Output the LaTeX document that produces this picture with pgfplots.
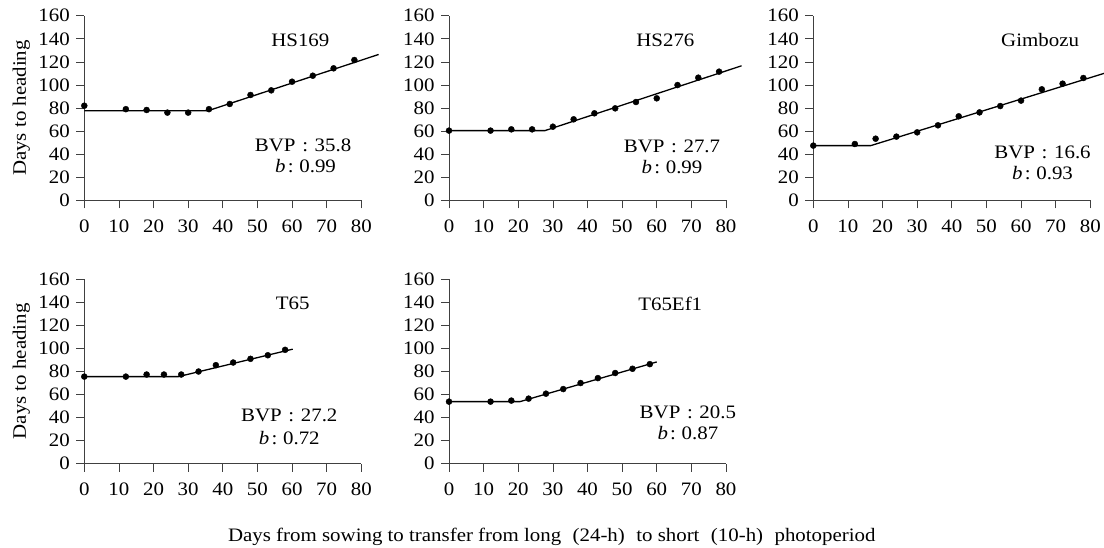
\documentclass[border=0pt]{standalone}
\usepackage{pgfplots}
\pgfplotsset{compat=1.18}
\usepackage{fontspec}
\setmainfont{Liberation Serif}[FakeStretch=1.1]
\begin{document}
\fontsize{19}{22}\selectfont
\begin{tikzpicture}
\useasboundingbox (0pt,0pt) rectangle (1104pt,-547pt);
\pgfplotsset{
  panel/.style={
    at={#1}, anchor=south west,
    scale only axis, width=277pt, height=184.6pt,
    xmin=0, xmax=80, ymin=0, ymax=160,
    axis x line=bottom, axis y line=left,
    axis line style={-, line width=0.7pt, black!75},
    xtick={0,10,...,80}, ytick={0,20,...,160},
    tick align=outside, major tick length=8pt,
    tick style={line width=0.7pt, black!75},
    clip=false,
    /pgf/number format/assume math mode=true,
    ticklabel style={font=\fontsize{19}{22}\selectfont},
    xticklabel style={yshift=-5pt},
  },
  pts/.style={only marks, mark=*, mark size=3pt, black},
  fitl/.style={no marks, line width=1.3pt, black},
}
% HS169
\begin{axis}[panel={(84.3pt,-200.3pt)}]
\addplot[pts] coordinates {(0,82) (12,79) (18,78.3) (24,76) (30,76) (36,79) (42,83.5) (48,91.3) (54,95.3) (60,102.8) (66,108) (72,114.4) (78,121.6)};
\addplot[fitl] coordinates {(0,77.7) (35.8,77.7) (85,126.4)};
\node[rotate=90] at (axis description cs:-0.227,0.5) {Days to heading};
\node at (axis cs:62.4,139) {HS169};
\node at (axis cs:63.2,47.3) {BVP\hspace{0.35em}:\hspace{0.35em}35.8};
\node at (axis cs:63.9,30) {\textit{b}\hspace{0.12em}:\hspace{0.3em}0.99};
\end{axis}
% HS276
\begin{axis}[panel={(449pt,-200.3pt)}]
\addplot[pts] coordinates {(0,60.4) (12,60.4) (18,61.5) (24,61.5) (30,63.8) (36,70.2) (42,75.4) (48,79.7) (54,85.2) (60,88.4) (66,99.9) (72,106.3) (78,111.5)};
\addplot[fitl] coordinates {(0,60.4) (27.7,60.4) (84.5,116.6)};
\node at (axis cs:62.5,139) {HS276};
\node at (axis cs:64.4,46.5) {BVP\hspace{0.35em}:\hspace{0.35em}27.7};
\node at (axis cs:64.4,29) {\textit{b}\hspace{0.12em}:\hspace{0.3em}0.99};
\end{axis}
% Gimbozu
\begin{axis}[panel={(813.3pt,-200.3pt)}]
\addplot[pts] coordinates {(0,47.4) (12,48.8) (18,53.4) (24,55.2) (30,58.9) (36,65) (42,72.8) (48,76.2) (54,81.7) (60,86.4) (66,96.2) (72,101.1) (78,106)};
\addplot[fitl] coordinates {(0,47.4) (16.6,47.4) (84.6,110.6)};
\node at (axis cs:65.5,139) {Gimbozu};
\node at (axis cs:66.2,41.3) {BVP\hspace{0.35em}:\hspace{0.35em}16.6};
\node at (axis cs:66.2,23.4) {\textit{b}\hspace{0.12em}:\hspace{0.3em}0.93};
\end{axis}
% T65
\begin{axis}[panel={(84.3pt,-463.7pt)}]
\addplot[pts] coordinates {(0,75.5) (12,75.5) (18,77.3) (23,77.3) (28,77.3) (33,79.9) (38,85.4) (43,87.7) (48,90.9) (53,94) (58,98.7)};
\addplot[fitl] coordinates {(0,75.5) (27.2,75.5) (60.2,99.3)};
\node[rotate=90] at (axis description cs:-0.227,0.5) {Days to heading};
\node at (axis cs:60.2,139) {T65};
\node at (axis cs:59.2,41.7) {BVP\hspace{0.35em}:\hspace{0.35em}27.2};
\node at (axis cs:59.2,22) {\textit{b}\hspace{0.12em}:\hspace{0.3em}0.72};
\end{axis}
% T65Ef1
\begin{axis}[panel={(449pt,-463.7pt)}]
\addplot[pts] coordinates {(0,53.8) (12,53.8) (18,54.7) (23,56.4) (28,60.7) (33,64.7) (38,69.9) (43,74.2) (48,78.6) (53,82.3) (58,86.3)};
\addplot[fitl] coordinates {(0,53.8) (20.5,53.8) (60,88.2)};
\node at (axis cs:63.9,138.4) {T65Ef1};
\node at (axis cs:69,44.9) {BVP\hspace{0.35em}:\hspace{0.35em}20.5};
\node at (axis cs:69,26.8) {\textit{b}\hspace{0.12em}:\hspace{0.3em}0.87};
\node at (axis cs:29.7,-63.5) {Days from sowing to transfer from long\hspace{0.6em}(24-h)\hspace{0.6em}to short\hspace{0.6em}(10-h)\hspace{0.6em}photoperiod};
\end{axis}
\end{tikzpicture}
\end{document}
